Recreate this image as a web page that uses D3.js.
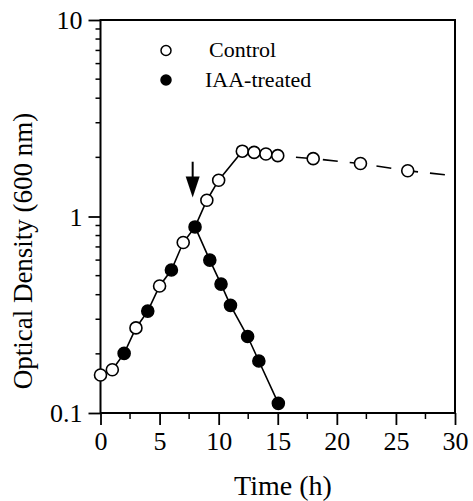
<!DOCTYPE html>
<html>
<head>
<meta charset="utf-8">
<script src="https://cdn.jsdelivr.net/npm/d3@7"></script>
<style>
    body { margin: 0; background: #fff; }
</style>
</head>
<body>
<script>
// values
let controlTime = [0, 1, 3, 5, 7, 9, 10, 12, 13, 14, 15, 18, 22, 26];
let controlOD = [0.156, 0.166, 0.271, 0.443, 0.737, 1.21, 1.53, 2.15, 2.12, 2.08, 2.04, 1.97, 1.86, 1.71];
let iaaTime = [2, 4, 6, 8, 9.25, 10.2, 11, 12.45, 13.4, 15.05];
let iaaOD = [0.201, 0.33, 0.534, 0.885, 0.60, 0.453, 0.353, 0.245, 0.184, 0.112];
let controlTrendEnd = [30, 1.61];   // dashed line runs on to the right axis
let arrowTime = 7.8;
let arrowOD = [1.9, 1.25];

let xTicks = [0, 5, 10, 15, 20, 25, 30];
let yTicks = [0.1, 1, 10];

let serif = '"Liberation Serif", serif';
let width = 473, height = 501;
let margin = { left: 100.5, right: 18, top: 20, bottom: 88 };

let svg = d3.select("body").append("svg")
    .attr("width", width)
    .attr("height", height);

let x = d3.scaleLinear().domain([0, 30]).range([margin.left, width - margin.right]);
let y = d3.scaleLog().domain([0.1, 10]).range([height - margin.bottom, margin.top]);

let control = controlTime.map((t, i) => ({ t: t, v: controlOD[i], filled: false }));
let iaa = iaaTime.map((t, i) => ({ t: t, v: iaaOD[i], filled: true }));

// exponential phase: both series share one line up to the arrow
let growth = control.concat(iaa).filter(d => d.t <= 8).sort((a, b) => a.t - b.t);
let decline = iaa.filter(d => d.t >= 8);
let recovery = [iaa.find(d => d.t === 8)].concat(control.filter(d => d.t >= 9 && d.t <= 12));
let plateau = control.filter(d => d.t >= 12).concat([{ t: controlTrendEnd[0], v: controlTrendEnd[1] }]);

let line = d3.line().x(d => x(d.t)).y(d => y(d.v));

function drawLine(data, dash) {
    svg.append("path")
        .datum(data)
        .attr("d", line)
        .attr("fill", "none")
        .attr("stroke", "#000")
        .attr("stroke-width", 1.6)
        .attr("stroke-dasharray", dash);
}

drawLine(growth, null);
drawLine(decline, null);
drawLine(recovery, null);
drawLine(plateau, "15,12");

// axes
let xAxis = d3.axisBottom(x)
    .tickValues(xTicks)
    .tickSize(12)
    .tickPadding(7)
    .tickFormat(d3.format("d"));

let gx = svg.append("g")
    .attr("transform", `translate(0,${y(0.1)})`)
    .call(xAxis);

let xMinor = d3.range(2.5, 30, 5);
gx.selectAll(".minor")
    .data(xMinor)
    .enter().append("line")
    .attr("class", "minor")
    .attr("x1", d => x(d)).attr("x2", d => x(d))
    .attr("y1", 0).attr("y2", 6)
    .attr("stroke", "#000").attr("stroke-width", 1.5);

let yAxis = d3.axisLeft(y)
    .tickValues(yTicks)
    .tickSize(12)
    .tickPadding(6)
    .tickFormat(d => d < 1 ? "0.1" : String(d));

let gy = svg.append("g")
    .attr("transform", `translate(${x(0)},0)`)
    .call(yAxis);

let yMinor = [];
[0.1, 1].forEach(base => {
    for (let k = 2; k <= 9; k++) yMinor.push(base * k);
});
gy.selectAll(".minor")
    .data(yMinor)
    .enter().append("line")
    .attr("class", "minor")
    .attr("x1", 0).attr("x2", -5)
    .attr("y1", d => y(d)).attr("y2", d => y(d))
    .attr("stroke", "#000").attr("stroke-width", 1.5);

[gx, gy].forEach(g => {
    g.attr("font-family", null).attr("font-size", null);
    g.select(".domain").remove();
    g.selectAll(".tick line").attr("stroke-width", 1.8);
    g.selectAll(".tick text")
        .style("font-family", serif)
        .style("font-size", "26px")
        .attr("fill", "#000");
});
gy.selectAll(".tick text").attr("dy", "0.34em");

// frame
svg.append("rect")
    .attr("x", x(0))
    .attr("y", y(10))
    .attr("width", x(30) - x(0))
    .attr("height", y(0.1) - y(10))
    .attr("fill", "none")
    .attr("stroke", "#000")
    .attr("stroke-width", 2);

// points
function drawPoints(data) {
    svg.selectAll(null)
        .data(data)
        .enter().append("circle")
        .attr("cx", d => x(d.t))
        .attr("cy", d => y(d.v))
        .attr("r", 6)
        .attr("fill", d => d.filled ? "#000" : "#fff")
        .attr("stroke", "#000")
        .attr("stroke-width", 1.6);
}
drawPoints(control);
drawPoints(iaa);

// arrow marking the addition of IAA
let ax = x(arrowTime);
svg.append("line")
    .attr("x1", ax).attr("x2", ax)
    .attr("y1", y(arrowOD[0])).attr("y2", y(arrowOD[1]) - 14)
    .attr("stroke", "#000").attr("stroke-width", 2);
svg.append("path")
    .attr("d", `M${ax - 7},${y(arrowOD[1]) - 21} L${ax + 7},${y(arrowOD[1]) - 21} L${ax},${y(arrowOD[1])} Z`)
    .attr("fill", "#000");

// legend
let legend = [
    { label: "Control", filled: false, cy: 50.5, tx: 209, ty: 57 },
    { label: "IAA-treated", filled: true, cy: 80, tx: 205, ty: 87 }
];
legend.forEach(l => {
    svg.append("circle")
        .attr("cx", 166).attr("cy", l.cy).attr("r", 5)
        .attr("fill", l.filled ? "#000" : "#fff")
        .attr("stroke", "#000").attr("stroke-width", 1.5);
    svg.append("text")
        .attr("x", l.tx).attr("y", l.ty)
        .style("font-family", serif)
        .style("font-size", "22px")
        .text(l.label);
});

// axis titles
svg.append("text")
    .attr("x", 283)
    .attr("y", 495)
    .attr("text-anchor", "middle")
    .style("font-family", serif)
    .style("font-size", "28px")
    .text("Time (h)");

svg.append("text")
    .attr("transform", "translate(32,251) rotate(-90)")
    .attr("text-anchor", "middle")
    .style("font-family", serif)
    .style("font-size", "27px")
    .text("Optical Density (600 nm)");
</script>
</body>
</html>
